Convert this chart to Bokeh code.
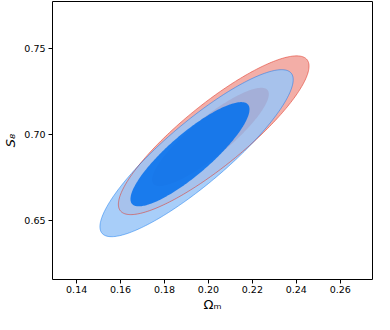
import numpy as np
from bokeh.plotting import figure
from bokeh.models import FixedTicker, Range1d, PrintfTickFormatter
from bokeh.embed import file_html
from bokeh.resources import INLINE

# Confidence contours (outer = 95%, inner = 68%):
# centre, half-extent along x and y, and correlation of the ellipse
names = ["red 95%", "red 68%", "blue 95%", "blue 68%"]
cx = [0.2024, 0.2009, 0.1946, 0.1916]
cy = [0.6996, 0.6986, 0.6892, 0.6886]
hx = [0.0434, 0.0266, 0.0440, 0.0271]
hy = [0.0460, 0.0285, 0.0484, 0.0302]
rho = [0.87, 0.87, 0.88, 0.86]

fills = ["#F3AEA7", "#E03424", "#99C5F8", "#006FED"]
fill_alpha = [1.0, 1.0, 0.85, 0.85]

x_ticks = [0.14, 0.16, 0.18, 0.20, 0.22, 0.24, 0.26]
y_ticks = [0.65, 0.70, 0.75]
x_lim = (0.129, 0.2747)
y_lim = (0.616, 0.7771)


def contour(i, n=240):
    t = np.linspace(0, 2 * np.pi, n)
    xs = cx[i] + hx[i] * np.cos(t)
    ys = cy[i] + hy[i] * (rho[i] * np.cos(t) + np.sqrt(1 - rho[i] ** 2) * np.sin(t))
    return xs, ys


p = figure(width=374, height=314,
           x_range=Range1d(*x_lim), y_range=Range1d(*y_lim),
           output_backend="svg", toolbar_location=None,
           min_border_left=45, min_border_right=2,
           min_border_top=1, min_border_bottom=34)

for i in range(4):
    xs, ys = contour(i)
    p.patch(xs, ys, fill_color=fills[i], fill_alpha=fill_alpha[i], line_color=None)

# contour edge lines
for i, col, a in [(0, "#E03424", 0.55), (2, "#006FED", 0.45)]:
    xs, ys = contour(i)
    p.line(xs, ys, line_color=col, line_alpha=a, line_width=1)

p.xgrid.visible = False
p.ygrid.visible = False
p.outline_line_color = "black"
p.outline_line_width = 1
p.outline_line_alpha = 1
p.background_fill_color = "white"

p.xaxis.ticker = FixedTicker(ticks=x_ticks)
p.yaxis.ticker = FixedTicker(ticks=y_ticks)
p.xaxis.formatter = PrintfTickFormatter(format="%.2f")
p.yaxis.formatter = PrintfTickFormatter(format="%.2f")

for ax in (p.xaxis[0], p.yaxis[0]):
    ax.axis_line_color = None
    ax.major_tick_in = 0
    ax.major_tick_out = 4
    ax.major_tick_line_color = "black"
    ax.major_tick_line_width = 1
    ax.minor_tick_line_color = None
    ax.major_label_text_font = "DejaVu Sans"
    ax.major_label_text_font_size = "9.5px"
    ax.major_label_text_color = "black"
    ax.major_label_standoff = 3
    ax.axis_label_text_font = "DejaVu Sans"
    ax.axis_label_text_font_size = "13px"
    ax.axis_label_text_font_style = "normal"
    ax.axis_label_text_color = "black"
    ax.axis_label_standoff = 3

p.xaxis.major_label_standoff = 2
p.xaxis.axis_label_standoff = 1
p.xaxis.axis_label = "Ωₘ"
p.yaxis.axis_label = "S₈"
p.yaxis.axis_label_text_font_style = "italic"

open("out.html", "w").write(file_html(p, INLINE))
